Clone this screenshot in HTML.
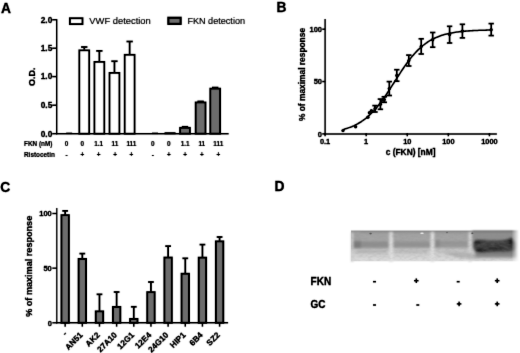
<!DOCTYPE html>
<html><head><meta charset="utf-8"><title>Figure</title>
<style>
html,body{margin:0;padding:0;background:#fff;}
body{width:520px;height:353px;overflow:hidden;}
svg{display:block;font-family:"Liberation Sans",sans-serif;}
</style></head><body>
<svg width="520" height="353" viewBox="0 0 520 353">
<defs><filter id="soft" color-interpolation-filters="sRGB" x="0" y="0" width="520" height="353" filterUnits="userSpaceOnUse"><feConvolveMatrix order="3" kernelMatrix="1 8 1 8 64 8 1 8 1" edgeMode="duplicate" preserveAlpha="true"/><feComponentTransfer><feFuncR type="linear" slope="1.18" intercept="-0.180"/><feFuncG type="linear" slope="1.18" intercept="-0.180"/><feFuncB type="linear" slope="1.18" intercept="-0.180"/></feComponentTransfer></filter>
<filter id="soft2" color-interpolation-filters="sRGB" x="340" y="220" width="180" height="50" filterUnits="userSpaceOnUse"><feConvolveMatrix order="3" kernelMatrix="1 8 1 8 64 8 1 8 1" edgeMode="duplicate" preserveAlpha="true"/></filter></defs>
<rect x="0" y="0" width="520" height="353" fill="#fff"/>
<g filter="url(#soft)">
<rect x="0" y="0" width="520" height="353" fill="#fff"/>
<text x="0.90" y="12.50" font-size="13.8" font-weight="bold" text-anchor="start" fill="#0a0a0a" stroke="#0a0a0a" stroke-width="0.3" >A</text>
<text x="276.50" y="12.25" font-size="13.8" font-weight="bold" text-anchor="start" fill="#0a0a0a" stroke="#0a0a0a" stroke-width="0.3" >B</text>
<text x="0.20" y="192.40" font-size="13.8" font-weight="bold" text-anchor="start" fill="#0a0a0a" stroke="#0a0a0a" stroke-width="0.3" >C</text>
<text x="274.55" y="191.25" font-size="13.8" font-weight="bold" text-anchor="start" fill="#0a0a0a" stroke="#0a0a0a" stroke-width="0.3" >D</text>
<line x1="56.70" y1="19.10" x2="56.70" y2="134.30" stroke="#0a0a0a" stroke-width="1.45"/>
<line x1="56.05" y1="133.70" x2="228.70" y2="133.70" stroke="#0a0a0a" stroke-width="1.55"/>
<line x1="52.20" y1="133.70" x2="56.70" y2="133.70" stroke="#0a0a0a" stroke-width="1.50"/>
<text x="52.30" y="136.50" font-size="8.3" font-weight="bold" text-anchor="end" fill="#0a0a0a" stroke="#0a0a0a" stroke-width="0.3" >0.0</text>
<line x1="52.20" y1="105.20" x2="56.70" y2="105.20" stroke="#0a0a0a" stroke-width="1.50"/>
<text x="52.30" y="108.00" font-size="8.3" font-weight="bold" text-anchor="end" fill="#0a0a0a" stroke="#0a0a0a" stroke-width="0.3" >0.5</text>
<line x1="52.20" y1="76.60" x2="56.70" y2="76.60" stroke="#0a0a0a" stroke-width="1.50"/>
<text x="52.30" y="79.40" font-size="8.3" font-weight="bold" text-anchor="end" fill="#0a0a0a" stroke="#0a0a0a" stroke-width="0.3" >1.0</text>
<line x1="52.20" y1="48.20" x2="56.70" y2="48.20" stroke="#0a0a0a" stroke-width="1.50"/>
<text x="52.30" y="51.00" font-size="8.3" font-weight="bold" text-anchor="end" fill="#0a0a0a" stroke="#0a0a0a" stroke-width="0.3" >1.5</text>
<line x1="52.20" y1="19.75" x2="56.70" y2="19.75" stroke="#0a0a0a" stroke-width="1.50"/>
<text x="52.30" y="22.55" font-size="8.3" font-weight="bold" text-anchor="end" fill="#0a0a0a" stroke="#0a0a0a" stroke-width="0.3" >2.0</text>
<line x1="66.15" y1="133.30" x2="72.15" y2="133.30" stroke="#0a0a0a" stroke-width="1.50"/>
<line x1="84.25" y1="47.00" x2="84.25" y2="49.60" stroke="#0a0a0a" stroke-width="1.80"/>
<line x1="81.05" y1="47.00" x2="87.45" y2="47.00" stroke="#0a0a0a" stroke-width="1.80"/>
<rect x="79.30" y="50.30" width="9.90" height="83.40" fill="#fff" stroke="#0a0a0a" stroke-width="1.80"/>
<line x1="99.35" y1="50.90" x2="99.35" y2="61.20" stroke="#0a0a0a" stroke-width="1.80"/>
<line x1="96.15" y1="50.90" x2="102.55" y2="50.90" stroke="#0a0a0a" stroke-width="1.80"/>
<rect x="94.40" y="61.90" width="9.90" height="71.80" fill="#fff" stroke="#0a0a0a" stroke-width="1.80"/>
<line x1="114.45" y1="61.20" x2="114.45" y2="72.20" stroke="#0a0a0a" stroke-width="1.80"/>
<line x1="111.25" y1="61.20" x2="117.65" y2="61.20" stroke="#0a0a0a" stroke-width="1.80"/>
<rect x="109.50" y="72.90" width="9.90" height="60.80" fill="#fff" stroke="#0a0a0a" stroke-width="1.80"/>
<line x1="129.65" y1="41.50" x2="129.65" y2="54.10" stroke="#0a0a0a" stroke-width="1.80"/>
<line x1="126.45" y1="41.50" x2="132.85" y2="41.50" stroke="#0a0a0a" stroke-width="1.80"/>
<rect x="124.70" y="54.80" width="9.90" height="78.90" fill="#fff" stroke="#0a0a0a" stroke-width="1.80"/>
<line x1="152.00" y1="133.30" x2="158.00" y2="133.30" stroke="#0a0a0a" stroke-width="1.50"/>
<rect x="165.10" y="132.80" width="9.90" height="0.90" fill="#838383" stroke="#0a0a0a" stroke-width="1.20"/>
<line x1="181.80" y1="126.75" x2="188.20" y2="126.75" stroke="#0a0a0a" stroke-width="1.70"/>
<rect x="180.05" y="127.80" width="9.90" height="5.90" fill="#838383" stroke="#0a0a0a" stroke-width="1.80"/>
<line x1="197.40" y1="101.35" x2="203.80" y2="101.35" stroke="#0a0a0a" stroke-width="1.70"/>
<rect x="195.65" y="102.40" width="9.90" height="31.30" fill="#838383" stroke="#0a0a0a" stroke-width="1.80"/>
<line x1="212.00" y1="87.50" x2="218.40" y2="87.50" stroke="#0a0a0a" stroke-width="1.70"/>
<rect x="210.25" y="88.60" width="9.90" height="45.10" fill="#838383" stroke="#0a0a0a" stroke-width="1.80"/>
<text x="24.00" y="146.00" font-size="6.4" font-weight="bold" text-anchor="start" fill="#0a0a0a" stroke="#0a0a0a" stroke-width="0.2" >FKN (nM)</text>
<text x="24.00" y="156.60" font-size="6.4" font-weight="bold" text-anchor="start" fill="#0a0a0a" stroke="#0a0a0a" stroke-width="0.2" >Ristocetin</text>
<text x="66.50" y="146.00" font-size="6.4" font-weight="bold" text-anchor="middle" fill="#0a0a0a" stroke="#0a0a0a" stroke-width="0.2" >0</text>
<text x="66.50" y="156.60" font-size="6.4" font-weight="bold" text-anchor="middle" fill="#0a0a0a" stroke="#0a0a0a" stroke-width="0.2" >-</text>
<text x="82.30" y="146.00" font-size="6.4" font-weight="bold" text-anchor="middle" fill="#0a0a0a" stroke="#0a0a0a" stroke-width="0.2" >0</text>
<text x="82.30" y="156.60" font-size="6.4" font-weight="bold" text-anchor="middle" fill="#0a0a0a" stroke="#0a0a0a" stroke-width="0.2" >+</text>
<text x="98.60" y="146.00" font-size="6.4" font-weight="bold" text-anchor="middle" fill="#0a0a0a" stroke="#0a0a0a" stroke-width="0.2" >1.1</text>
<text x="98.60" y="156.60" font-size="6.4" font-weight="bold" text-anchor="middle" fill="#0a0a0a" stroke="#0a0a0a" stroke-width="0.2" >+</text>
<text x="115.00" y="146.00" font-size="6.4" font-weight="bold" text-anchor="middle" fill="#0a0a0a" stroke="#0a0a0a" stroke-width="0.2" >11</text>
<text x="115.00" y="156.60" font-size="6.4" font-weight="bold" text-anchor="middle" fill="#0a0a0a" stroke="#0a0a0a" stroke-width="0.2" >+</text>
<text x="131.40" y="146.00" font-size="6.4" font-weight="bold" text-anchor="middle" fill="#0a0a0a" stroke="#0a0a0a" stroke-width="0.2" >111</text>
<text x="131.40" y="156.60" font-size="6.4" font-weight="bold" text-anchor="middle" fill="#0a0a0a" stroke="#0a0a0a" stroke-width="0.2" >+</text>
<text x="152.90" y="146.00" font-size="6.4" font-weight="bold" text-anchor="middle" fill="#0a0a0a" stroke="#0a0a0a" stroke-width="0.2" >0</text>
<text x="152.90" y="156.60" font-size="6.4" font-weight="bold" text-anchor="middle" fill="#0a0a0a" stroke="#0a0a0a" stroke-width="0.2" >-</text>
<text x="168.80" y="146.00" font-size="6.4" font-weight="bold" text-anchor="middle" fill="#0a0a0a" stroke="#0a0a0a" stroke-width="0.2" >0</text>
<text x="168.80" y="156.60" font-size="6.4" font-weight="bold" text-anchor="middle" fill="#0a0a0a" stroke="#0a0a0a" stroke-width="0.2" >+</text>
<text x="185.10" y="146.00" font-size="6.4" font-weight="bold" text-anchor="middle" fill="#0a0a0a" stroke="#0a0a0a" stroke-width="0.2" >1.1</text>
<text x="185.10" y="156.60" font-size="6.4" font-weight="bold" text-anchor="middle" fill="#0a0a0a" stroke="#0a0a0a" stroke-width="0.2" >+</text>
<text x="201.80" y="146.00" font-size="6.4" font-weight="bold" text-anchor="middle" fill="#0a0a0a" stroke="#0a0a0a" stroke-width="0.2" >11</text>
<text x="201.80" y="156.60" font-size="6.4" font-weight="bold" text-anchor="middle" fill="#0a0a0a" stroke="#0a0a0a" stroke-width="0.2" >+</text>
<text x="218.30" y="146.00" font-size="6.4" font-weight="bold" text-anchor="middle" fill="#0a0a0a" stroke="#0a0a0a" stroke-width="0.2" >111</text>
<text x="218.30" y="156.60" font-size="6.4" font-weight="bold" text-anchor="middle" fill="#0a0a0a" stroke="#0a0a0a" stroke-width="0.2" >+</text>
<text transform="translate(34.50,76.70) rotate(-90)" font-size="9.0" font-weight="bold" text-anchor="middle" fill="#0a0a0a" stroke="#0a0a0a" stroke-width="0.3">O.D.</text>
<rect x="69.90" y="18.20" width="12.60" height="5.90" fill="#fff" stroke="#0a0a0a" stroke-width="1.90"/>
<text x="89.30" y="24.20" font-size="9.4" font-weight="normal" text-anchor="start" fill="#0a0a0a" stroke="#0a0a0a" stroke-width="0.15" >VWF detection</text>
<rect x="168.30" y="17.70" width="12.40" height="6.20" fill="#838383" stroke="#0a0a0a" stroke-width="2.10"/>
<text x="187.40" y="24.20" font-size="9.1" font-weight="normal" text-anchor="start" fill="#0a0a0a" stroke="#0a0a0a" stroke-width="0.15" >FKN detection</text>
<line x1="325.10" y1="19.00" x2="325.10" y2="134.50" stroke="#0a0a0a" stroke-width="1.45"/>
<line x1="324.40" y1="133.90" x2="496.90" y2="133.90" stroke="#0a0a0a" stroke-width="1.45"/>
<line x1="322.20" y1="133.90" x2="325.10" y2="133.90" stroke="#0a0a0a" stroke-width="1.50"/>
<text x="322.00" y="136.60" font-size="7.5" font-weight="bold" text-anchor="end" fill="#0a0a0a" stroke="#0a0a0a" stroke-width="0.3" >0</text>
<line x1="322.20" y1="81.55" x2="325.10" y2="81.55" stroke="#0a0a0a" stroke-width="1.50"/>
<text x="322.00" y="84.25" font-size="7.5" font-weight="bold" text-anchor="end" fill="#0a0a0a" stroke="#0a0a0a" stroke-width="0.3" >50</text>
<line x1="322.20" y1="29.20" x2="325.10" y2="29.20" stroke="#0a0a0a" stroke-width="1.50"/>
<text x="322.00" y="31.90" font-size="7.5" font-weight="bold" text-anchor="end" fill="#0a0a0a" stroke="#0a0a0a" stroke-width="0.3" >100</text>
<line x1="325.10" y1="133.20" x2="325.10" y2="136.30" stroke="#0a0a0a" stroke-width="1.50"/>
<text x="325.10" y="143.60" font-size="7.4" font-weight="bold" text-anchor="middle" fill="#0a0a0a" stroke="#0a0a0a" stroke-width="0.3" >0.1</text>
<line x1="366.18" y1="133.20" x2="366.18" y2="136.30" stroke="#0a0a0a" stroke-width="1.50"/>
<text x="366.18" y="143.60" font-size="7.4" font-weight="bold" text-anchor="middle" fill="#0a0a0a" stroke="#0a0a0a" stroke-width="0.3" >1</text>
<line x1="407.26" y1="133.20" x2="407.26" y2="136.30" stroke="#0a0a0a" stroke-width="1.50"/>
<text x="407.26" y="143.60" font-size="7.4" font-weight="bold" text-anchor="middle" fill="#0a0a0a" stroke="#0a0a0a" stroke-width="0.3" >10</text>
<line x1="448.34" y1="133.20" x2="448.34" y2="136.30" stroke="#0a0a0a" stroke-width="1.50"/>
<text x="448.34" y="143.60" font-size="7.4" font-weight="bold" text-anchor="middle" fill="#0a0a0a" stroke="#0a0a0a" stroke-width="0.3" >100</text>
<line x1="489.42" y1="133.20" x2="489.42" y2="136.30" stroke="#0a0a0a" stroke-width="1.50"/>
<text x="489.42" y="143.60" font-size="7.4" font-weight="bold" text-anchor="middle" fill="#0a0a0a" stroke="#0a0a0a" stroke-width="0.3" >1000</text>
<text x="410.60" y="155.00" font-size="8.4" font-weight="bold" text-anchor="middle" fill="#0a0a0a" stroke="#0a0a0a" stroke-width="0.3" >c (FKN) [nM]</text>
<text transform="translate(305.20,74.50) rotate(-90)" font-size="8.4" font-weight="bold" text-anchor="middle" fill="#0a0a0a" stroke="#0a0a0a" stroke-width="0.3">% of maximal response</text>
<path d="M342.95,129.50 L344.19,129.18 L345.42,128.83 L346.66,128.46 L347.90,128.06 L349.13,127.63 L350.37,127.17 L351.61,126.69 L352.84,126.17 L354.08,125.62 L355.31,125.03 L356.55,124.40 L357.79,123.74 L359.02,123.03 L360.26,122.28 L361.50,121.48 L362.73,120.64 L363.97,119.75 L365.20,118.81 L366.44,117.82 L367.68,116.77 L368.91,115.67 L370.15,114.52 L371.39,113.31 L372.62,112.05 L373.86,110.73 L375.09,109.35 L376.33,107.92 L377.57,106.43 L378.80,104.89 L380.04,103.30 L381.27,101.66 L382.51,99.97 L383.75,98.24 L384.98,96.46 L386.22,94.65 L387.46,92.80 L388.69,90.93 L389.93,89.03 L391.16,87.10 L392.40,85.17 L393.64,83.22 L394.87,81.28 L396.11,79.33 L397.35,77.39 L398.58,75.46 L399.82,73.55 L401.05,71.66 L402.29,69.80 L403.53,67.97 L404.76,66.18 L406.00,64.43 L407.24,62.72 L408.47,61.05 L409.71,59.44 L410.94,57.88 L412.18,56.36 L413.42,54.91 L414.65,53.51 L415.89,52.16 L417.13,50.87 L418.36,49.64 L419.60,48.46 L420.83,47.34 L422.07,46.27 L423.31,45.25 L424.54,44.29 L425.78,43.38 L427.01,42.52 L428.25,41.70 L429.49,40.93 L430.72,40.20 L431.96,39.52 L433.20,38.87 L434.43,38.27 L435.67,37.70 L436.90,37.16 L438.14,36.66 L439.38,36.19 L440.61,35.75 L441.85,35.34 L443.09,34.96 L444.32,34.60 L445.56,34.26 L446.79,33.95 L448.03,33.66 L449.27,33.38 L450.50,33.13 L451.74,32.89 L452.98,32.67 L454.21,32.46 L455.45,32.27 L456.68,32.09 L457.92,31.92 L459.16,31.77 L460.39,31.62 L461.63,31.49 L462.86,31.36 L464.10,31.25 L465.34,31.14 L466.57,31.04 L467.81,30.94 L469.05,30.86 L470.28,30.78 L471.52,30.70 L472.75,30.63 L473.99,30.57 L475.23,30.51 L476.46,30.45 L477.70,30.40 L478.94,30.35 L480.17,30.30 L481.41,30.26 L482.64,30.22 L483.88,30.19 L485.12,30.15 L486.35,30.12 L487.59,30.09 L488.83,30.07 L490.06,30.04 L491.30,30.02" fill="none" stroke="#0a0a0a" stroke-width="1.55" stroke-linejoin="round"/>
<circle cx="343.00" cy="130.60" r="1.7" fill="#0a0a0a"/>
<circle cx="355.60" cy="126.80" r="1.7" fill="#0a0a0a"/>
<circle cx="367.90" cy="117.30" r="1.7" fill="#0a0a0a"/>
<circle cx="369.40" cy="112.70" r="1.7" fill="#0a0a0a"/>
<circle cx="371.40" cy="110.80" r="1.7" fill="#0a0a0a"/>
<line x1="375.00" y1="105.60" x2="375.00" y2="112.00" stroke="#0a0a0a" stroke-width="1.70"/>
<line x1="372.30" y1="105.60" x2="377.70" y2="105.60" stroke="#0a0a0a" stroke-width="1.70"/>
<line x1="372.30" y1="112.00" x2="377.70" y2="112.00" stroke="#0a0a0a" stroke-width="1.70"/>
<circle cx="375.00" cy="108.80" r="1.7" fill="#0a0a0a"/>
<line x1="380.40" y1="99.10" x2="380.40" y2="109.30" stroke="#0a0a0a" stroke-width="1.70"/>
<line x1="377.70" y1="99.10" x2="383.10" y2="99.10" stroke="#0a0a0a" stroke-width="1.70"/>
<line x1="377.70" y1="109.30" x2="383.10" y2="109.30" stroke="#0a0a0a" stroke-width="1.70"/>
<circle cx="380.40" cy="104.20" r="1.7" fill="#0a0a0a"/>
<line x1="384.30" y1="96.80" x2="384.30" y2="102.30" stroke="#0a0a0a" stroke-width="1.70"/>
<line x1="381.60" y1="96.80" x2="387.00" y2="96.80" stroke="#0a0a0a" stroke-width="1.70"/>
<line x1="381.60" y1="102.30" x2="387.00" y2="102.30" stroke="#0a0a0a" stroke-width="1.70"/>
<circle cx="384.30" cy="99.60" r="1.7" fill="#0a0a0a"/>
<line x1="389.30" y1="81.60" x2="389.30" y2="95.50" stroke="#0a0a0a" stroke-width="1.70"/>
<line x1="386.60" y1="81.60" x2="392.00" y2="81.60" stroke="#0a0a0a" stroke-width="1.70"/>
<line x1="386.60" y1="95.50" x2="392.00" y2="95.50" stroke="#0a0a0a" stroke-width="1.70"/>
<circle cx="389.30" cy="88.60" r="1.7" fill="#0a0a0a"/>
<line x1="396.80" y1="69.70" x2="396.80" y2="81.20" stroke="#0a0a0a" stroke-width="1.70"/>
<line x1="394.10" y1="69.70" x2="399.50" y2="69.70" stroke="#0a0a0a" stroke-width="1.70"/>
<line x1="394.10" y1="81.20" x2="399.50" y2="81.20" stroke="#0a0a0a" stroke-width="1.70"/>
<circle cx="396.80" cy="75.50" r="1.7" fill="#0a0a0a"/>
<line x1="408.80" y1="55.10" x2="408.80" y2="66.00" stroke="#0a0a0a" stroke-width="1.70"/>
<line x1="406.10" y1="55.10" x2="411.50" y2="55.10" stroke="#0a0a0a" stroke-width="1.70"/>
<line x1="406.10" y1="66.00" x2="411.50" y2="66.00" stroke="#0a0a0a" stroke-width="1.70"/>
<circle cx="408.80" cy="60.60" r="1.7" fill="#0a0a0a"/>
<line x1="421.20" y1="38.80" x2="421.20" y2="54.00" stroke="#0a0a0a" stroke-width="1.70"/>
<line x1="418.50" y1="38.80" x2="423.90" y2="38.80" stroke="#0a0a0a" stroke-width="1.70"/>
<line x1="418.50" y1="54.00" x2="423.90" y2="54.00" stroke="#0a0a0a" stroke-width="1.70"/>
<circle cx="421.20" cy="46.40" r="1.7" fill="#0a0a0a"/>
<line x1="432.70" y1="32.50" x2="432.70" y2="47.20" stroke="#0a0a0a" stroke-width="1.70"/>
<line x1="430.00" y1="32.50" x2="435.40" y2="32.50" stroke="#0a0a0a" stroke-width="1.70"/>
<line x1="430.00" y1="47.20" x2="435.40" y2="47.20" stroke="#0a0a0a" stroke-width="1.70"/>
<circle cx="432.70" cy="39.80" r="1.7" fill="#0a0a0a"/>
<line x1="449.60" y1="26.30" x2="449.60" y2="43.00" stroke="#0a0a0a" stroke-width="1.70"/>
<line x1="446.90" y1="26.30" x2="452.30" y2="26.30" stroke="#0a0a0a" stroke-width="1.70"/>
<line x1="446.90" y1="43.00" x2="452.30" y2="43.00" stroke="#0a0a0a" stroke-width="1.70"/>
<circle cx="449.60" cy="34.60" r="1.7" fill="#0a0a0a"/>
<line x1="462.40" y1="24.30" x2="462.40" y2="37.90" stroke="#0a0a0a" stroke-width="1.70"/>
<line x1="459.70" y1="24.30" x2="465.10" y2="24.30" stroke="#0a0a0a" stroke-width="1.70"/>
<line x1="459.70" y1="37.90" x2="465.10" y2="37.90" stroke="#0a0a0a" stroke-width="1.70"/>
<circle cx="462.40" cy="31.10" r="1.7" fill="#0a0a0a"/>
<line x1="491.20" y1="23.60" x2="491.20" y2="35.60" stroke="#0a0a0a" stroke-width="1.70"/>
<line x1="488.50" y1="23.60" x2="493.90" y2="23.60" stroke="#0a0a0a" stroke-width="1.70"/>
<line x1="488.50" y1="35.60" x2="493.90" y2="35.60" stroke="#0a0a0a" stroke-width="1.70"/>
<circle cx="491.20" cy="29.70" r="1.7" fill="#0a0a0a"/>
<line x1="56.80" y1="207.90" x2="56.80" y2="323.50" stroke="#0a0a0a" stroke-width="1.30"/>
<line x1="56.20" y1="322.80" x2="228.10" y2="322.80" stroke="#0a0a0a" stroke-width="1.60"/>
<line x1="52.30" y1="322.80" x2="56.80" y2="322.80" stroke="#0a0a0a" stroke-width="1.45"/>
<text x="51.80" y="325.50" font-size="7.5" font-weight="bold" text-anchor="end" fill="#0a0a0a" stroke="#0a0a0a" stroke-width="0.3" >0</text>
<line x1="52.30" y1="268.15" x2="56.80" y2="268.15" stroke="#0a0a0a" stroke-width="1.45"/>
<text x="51.80" y="270.85" font-size="7.5" font-weight="bold" text-anchor="end" fill="#0a0a0a" stroke="#0a0a0a" stroke-width="0.3" >50</text>
<line x1="52.30" y1="213.50" x2="56.80" y2="213.50" stroke="#0a0a0a" stroke-width="1.45"/>
<text x="51.80" y="216.20" font-size="7.5" font-weight="bold" text-anchor="end" fill="#0a0a0a" stroke="#0a0a0a" stroke-width="0.3" >100</text>
<line x1="65.15" y1="323.50" x2="65.15" y2="326.70" stroke="#0a0a0a" stroke-width="1.50"/>
<line x1="65.15" y1="210.90" x2="65.15" y2="214.50" stroke="#0a0a0a" stroke-width="1.80"/>
<line x1="62.25" y1="210.90" x2="68.05" y2="210.90" stroke="#0a0a0a" stroke-width="1.80"/>
<rect x="61.40" y="215.10" width="7.50" height="107.70" fill="#838383" stroke="#0a0a0a" stroke-width="1.85"/>
<text transform="translate(66.55,335.30) rotate(-45)" font-size="8.2" font-weight="bold" text-anchor="middle" fill="#0a0a0a" stroke="#0a0a0a" stroke-width="0.3">-</text>
<line x1="82.31" y1="323.50" x2="82.31" y2="326.70" stroke="#0a0a0a" stroke-width="1.50"/>
<line x1="82.31" y1="253.60" x2="82.31" y2="258.30" stroke="#0a0a0a" stroke-width="1.80"/>
<line x1="79.41" y1="253.60" x2="85.21" y2="253.60" stroke="#0a0a0a" stroke-width="1.80"/>
<rect x="78.56" y="258.90" width="7.50" height="63.90" fill="#838383" stroke="#0a0a0a" stroke-width="1.85"/>
<text transform="translate(83.21,335.60) rotate(-45)" font-size="8.2" font-weight="bold" text-anchor="end" fill="#0a0a0a" stroke="#0a0a0a" stroke-width="0.3">AN51</text>
<line x1="99.47" y1="323.50" x2="99.47" y2="326.70" stroke="#0a0a0a" stroke-width="1.50"/>
<line x1="99.47" y1="294.30" x2="99.47" y2="310.70" stroke="#0a0a0a" stroke-width="1.80"/>
<line x1="96.57" y1="294.30" x2="102.37" y2="294.30" stroke="#0a0a0a" stroke-width="1.80"/>
<rect x="95.72" y="311.30" width="7.50" height="11.50" fill="#838383" stroke="#0a0a0a" stroke-width="1.85"/>
<text transform="translate(100.37,335.60) rotate(-45)" font-size="8.2" font-weight="bold" text-anchor="end" fill="#0a0a0a" stroke="#0a0a0a" stroke-width="0.3">AK2</text>
<line x1="116.63" y1="323.50" x2="116.63" y2="326.70" stroke="#0a0a0a" stroke-width="1.50"/>
<line x1="116.63" y1="292.00" x2="116.63" y2="306.30" stroke="#0a0a0a" stroke-width="1.80"/>
<line x1="113.73" y1="292.00" x2="119.53" y2="292.00" stroke="#0a0a0a" stroke-width="1.80"/>
<rect x="112.88" y="306.90" width="7.50" height="15.90" fill="#838383" stroke="#0a0a0a" stroke-width="1.85"/>
<text transform="translate(117.53,335.60) rotate(-45)" font-size="8.2" font-weight="bold" text-anchor="end" fill="#0a0a0a" stroke="#0a0a0a" stroke-width="0.3">27A10</text>
<line x1="133.79" y1="323.50" x2="133.79" y2="326.70" stroke="#0a0a0a" stroke-width="1.50"/>
<line x1="133.79" y1="306.80" x2="133.79" y2="318.30" stroke="#0a0a0a" stroke-width="1.80"/>
<line x1="130.89" y1="306.80" x2="136.69" y2="306.80" stroke="#0a0a0a" stroke-width="1.80"/>
<rect x="130.04" y="318.90" width="7.50" height="3.90" fill="#838383" stroke="#0a0a0a" stroke-width="1.85"/>
<text transform="translate(134.69,335.60) rotate(-45)" font-size="8.2" font-weight="bold" text-anchor="end" fill="#0a0a0a" stroke="#0a0a0a" stroke-width="0.3">12G1</text>
<line x1="150.95" y1="323.50" x2="150.95" y2="326.70" stroke="#0a0a0a" stroke-width="1.50"/>
<line x1="150.95" y1="282.00" x2="150.95" y2="291.50" stroke="#0a0a0a" stroke-width="1.80"/>
<line x1="148.05" y1="282.00" x2="153.85" y2="282.00" stroke="#0a0a0a" stroke-width="1.80"/>
<rect x="147.20" y="292.10" width="7.50" height="30.70" fill="#838383" stroke="#0a0a0a" stroke-width="1.85"/>
<text transform="translate(151.85,335.60) rotate(-45)" font-size="8.2" font-weight="bold" text-anchor="end" fill="#0a0a0a" stroke="#0a0a0a" stroke-width="0.3">12E4</text>
<line x1="168.11" y1="323.50" x2="168.11" y2="326.70" stroke="#0a0a0a" stroke-width="1.50"/>
<line x1="168.11" y1="246.10" x2="168.11" y2="256.90" stroke="#0a0a0a" stroke-width="1.80"/>
<line x1="165.21" y1="246.10" x2="171.01" y2="246.10" stroke="#0a0a0a" stroke-width="1.80"/>
<rect x="164.36" y="257.50" width="7.50" height="65.30" fill="#838383" stroke="#0a0a0a" stroke-width="1.85"/>
<text transform="translate(169.01,335.60) rotate(-45)" font-size="8.2" font-weight="bold" text-anchor="end" fill="#0a0a0a" stroke="#0a0a0a" stroke-width="0.3">24G10</text>
<line x1="185.27" y1="323.50" x2="185.27" y2="326.70" stroke="#0a0a0a" stroke-width="1.50"/>
<line x1="185.27" y1="258.30" x2="185.27" y2="273.10" stroke="#0a0a0a" stroke-width="1.80"/>
<line x1="182.37" y1="258.30" x2="188.17" y2="258.30" stroke="#0a0a0a" stroke-width="1.80"/>
<rect x="181.52" y="273.70" width="7.50" height="49.10" fill="#838383" stroke="#0a0a0a" stroke-width="1.85"/>
<text transform="translate(186.17,335.60) rotate(-45)" font-size="8.2" font-weight="bold" text-anchor="end" fill="#0a0a0a" stroke="#0a0a0a" stroke-width="0.3">HIP1</text>
<line x1="202.43" y1="323.50" x2="202.43" y2="326.70" stroke="#0a0a0a" stroke-width="1.50"/>
<line x1="202.43" y1="244.60" x2="202.43" y2="257.00" stroke="#0a0a0a" stroke-width="1.80"/>
<line x1="199.53" y1="244.60" x2="205.33" y2="244.60" stroke="#0a0a0a" stroke-width="1.80"/>
<rect x="198.68" y="257.60" width="7.50" height="65.20" fill="#838383" stroke="#0a0a0a" stroke-width="1.85"/>
<text transform="translate(203.33,335.60) rotate(-45)" font-size="8.2" font-weight="bold" text-anchor="end" fill="#0a0a0a" stroke="#0a0a0a" stroke-width="0.3">6B4</text>
<line x1="219.59" y1="323.50" x2="219.59" y2="326.70" stroke="#0a0a0a" stroke-width="1.50"/>
<line x1="219.59" y1="237.00" x2="219.59" y2="240.70" stroke="#0a0a0a" stroke-width="1.80"/>
<line x1="216.69" y1="237.00" x2="222.49" y2="237.00" stroke="#0a0a0a" stroke-width="1.80"/>
<rect x="215.84" y="241.30" width="7.50" height="81.50" fill="#838383" stroke="#0a0a0a" stroke-width="1.85"/>
<text transform="translate(220.49,335.60) rotate(-45)" font-size="8.2" font-weight="bold" text-anchor="end" fill="#0a0a0a" stroke="#0a0a0a" stroke-width="0.3">SZ2</text>
<text transform="translate(32.40,266.30) rotate(-90)" font-size="9.1" font-weight="bold" text-anchor="middle" fill="#0a0a0a" stroke="#0a0a0a" stroke-width="0.3">% of maximal response</text>
<text x="310.60" y="284.60" font-size="10.0" font-weight="bold" text-anchor="start" fill="#0a0a0a" stroke="#0a0a0a" stroke-width="0.3" >FKN</text>
<text x="310.60" y="308.30" font-size="10.0" font-weight="bold" text-anchor="start" fill="#0a0a0a" stroke="#0a0a0a" stroke-width="0.3" >GC</text>
<rect x="414.00" y="279.95" width="4.6" height="1.5" fill="#0a0a0a"/>
<rect x="415.55" y="278.40" width="1.5" height="4.6" fill="#0a0a0a"/>
<rect x="494.90" y="279.95" width="4.6" height="1.5" fill="#0a0a0a"/>
<rect x="496.45" y="278.40" width="1.5" height="4.6" fill="#0a0a0a"/>
<rect x="456.80" y="303.15" width="4.6" height="1.5" fill="#0a0a0a"/>
<rect x="458.35" y="301.60" width="1.5" height="4.6" fill="#0a0a0a"/>
<rect x="494.90" y="303.15" width="4.6" height="1.5" fill="#0a0a0a"/>
<rect x="496.45" y="301.60" width="1.5" height="4.6" fill="#0a0a0a"/>
<rect x="373.00" y="280.90" width="3.0" height="1.6" fill="#0a0a0a"/>
<rect x="456.70" y="280.90" width="3.0" height="1.6" fill="#0a0a0a"/>
<rect x="373.00" y="304.20" width="3.0" height="1.6" fill="#0a0a0a"/>
<rect x="416.30" y="304.20" width="3.0" height="1.6" fill="#0a0a0a"/>
</g>
<g filter="url(#soft2)">
<rect x="340" y="220" width="180" height="50" fill="#fff"/>

<defs>
<filter id="bl" x="-5%" y="-30%" width="110%" height="160%"><feGaussianBlur stdDeviation="1.1"/></filter>
<filter id="bl2" x="-10%" y="-50%" width="120%" height="200%"><feGaussianBlur stdDeviation="1.7"/></filter>
<filter id="bl3" x="-20%" y="-60%" width="140%" height="220%"><feGaussianBlur stdDeviation="0.55"/></filter>
<filter id="bl4" x="-20%" y="-60%" width="140%" height="220%"><feGaussianBlur stdDeviation="0.9"/></filter>
<linearGradient id="bg" x1="0" y1="0" x2="0" y2="1">
<stop offset="0" stop-color="#767676"/><stop offset="0.05" stop-color="#949494"/><stop offset="0.12" stop-color="#a2a2a2"/><stop offset="0.36" stop-color="#a6a6a6"/><stop offset="0.5" stop-color="#a2a2a2"/><stop offset="0.62" stop-color="#c2c2c2"/><stop offset="0.8" stop-color="#d0d0d0"/><stop offset="1" stop-color="#dedede"/>
</linearGradient>
<linearGradient id="fr" x1="0" y1="0" x2="1" y2="0">
<stop offset="0" stop-color="#fff" stop-opacity="0"/><stop offset="1" stop-color="#fff" stop-opacity="1"/>
</linearGradient>
<filter id="nz" x="0" y="0" width="100%" height="100%"><feTurbulence type="fractalNoise" baseFrequency="0.22 0.5" numOctaves="2" seed="7"/><feColorMatrix type="matrix" values="0 0 0 0 0.25  0 0 0 0 0.25  0 0 0 0 0.25  1.6 0 0 0 -0.62"/><feGaussianBlur stdDeviation="0.5"/></filter>
<clipPath id="bc"><rect x="349" y="229" width="171" height="34"/></clipPath>
</defs>
<g clip-path="url(#bc)">
<g filter="url(#bl3)"><rect x="351" y="230.6" width="169" height="30.7" fill="url(#bg)"/></g>
<g filter="url(#bl)">
<rect x="389.3" y="232" width="3.6" height="30" fill="#e0e0e0"/>
<rect x="430.6" y="232" width="3.6" height="30" fill="#e0e0e0"/>
<rect x="468.6" y="232" width="2.8" height="30" fill="#dadada"/>
<rect x="351" y="232" width="2.2" height="30" fill="#cfcfcf"/>
<rect x="353.5" y="241.5" width="35" height="6" fill="#8e8e8e"/>
<rect x="353.8" y="240.5" width="7" height="7.5" fill="#7a7a7a"/>
<rect x="354.5" y="232" width="6" height="9" fill="#a0a0a0"/>
<rect x="356" y="250.4" width="31" height="2.2" fill="#b0b0b0"/>
<rect x="394" y="241.5" width="36" height="5.5" fill="#929292"/>
<rect x="396" y="250.4" width="31" height="2.0" fill="#b8b8b8"/>
<rect x="435" y="241" width="33" height="5.5" fill="#969696"/>
<rect x="435" y="240" width="5" height="7" fill="#8a8a8a"/>
<path d="M440,251 L470,252.5 L476,256 L476,259 L455,257 Z" fill="#b4b4b4"/>
<rect x="472.5" y="231.6" width="48" height="8" fill="#8e8e8e"/>
<rect x="472.5" y="230.9" width="47" height="1.0" fill="#5a5a5a"/>
</g>
<g filter="url(#bl2)">
<rect x="475" y="250.5" width="43" height="7" fill="#808080"/>
<rect x="474" y="240.2" width="43" height="11" rx="3" fill="#4a4a4a"/>
</g>
<g filter="url(#bl4)" transform="translate(0,0.7)">
<path d="M474.2,240.2 C478,238.6 484,239.6 490,240.6 C497,241.4 504,240.4 508,238.4 L512.6,237.6 L513,246.5 C512,250 508,251 500,250.6 C494,250.6 488,251.4 484,251.6 C479,251.8 475.5,250.5 474.5,247.5 Z" fill="#3c3c3c"/>
<ellipse cx="481" cy="249.6" rx="5.2" ry="1.7" fill="#161616"/>
<ellipse cx="510.6" cy="241.5" rx="2.2" ry="4.2" fill="#1e1e1e"/>
<ellipse cx="477.5" cy="241.5" rx="3.2" ry="2.0" fill="#242424"/>
<ellipse cx="495" cy="247.5" rx="9" ry="2.0" fill="#2c2c2c"/>
</g>
<rect x="351" y="231" width="162" height="30" filter="url(#nz)" opacity="0.3"/>
<rect x="511.5" y="229" width="7.5" height="34" fill="url(#fr)"/><rect x="519" y="229" width="1" height="34" fill="#fff"/>
<g filter="url(#bl3)">
<ellipse cx="370.6" cy="233.6" rx="1.3" ry="0.8" fill="#505050"/>
<ellipse cx="447" cy="232.5" rx="1.0" ry="0.7" fill="#606060"/>
<ellipse cx="422" cy="233.3" rx="1.8" ry="0.8" fill="#f2f2f2"/>
<ellipse cx="472.3" cy="233.3" rx="1.1" ry="0.7" fill="#444"/>
</g>
</g>

</g>
</svg>
</body></html>
